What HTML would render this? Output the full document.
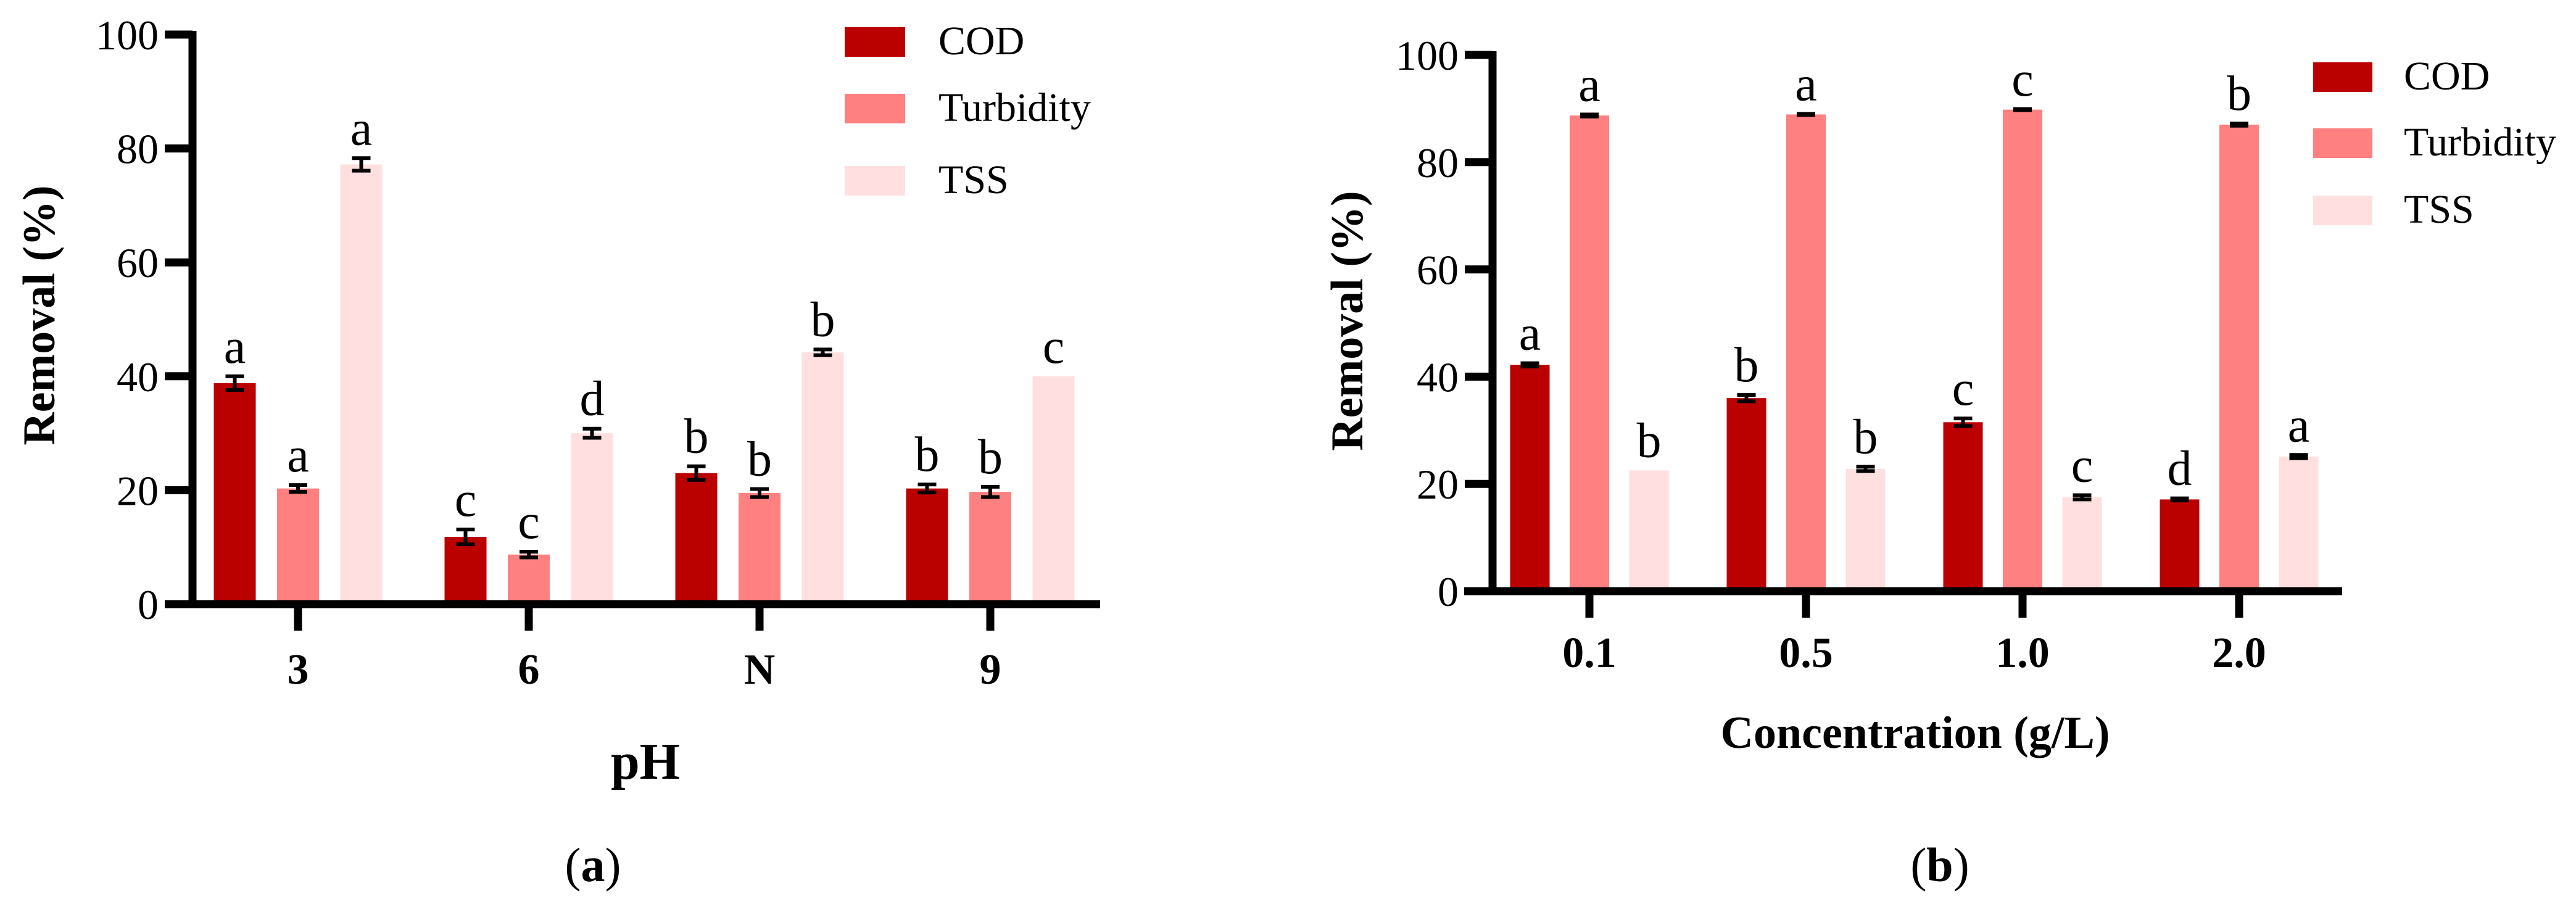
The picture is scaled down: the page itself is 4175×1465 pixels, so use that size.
<!DOCTYPE html>
<html><head><meta charset="utf-8">
<style>
html,body{margin:0;padding:0;background:#fff;}
svg{display:block;}
svg text{font-family:"Liberation Serif","DejaVu Serif",serif;}
</style></head>
<body>
<svg id="fig" width="4175" height="1465" viewBox="0 0 4175 1465" xmlns="http://www.w3.org/2000/svg" font-family="Liberation Serif, serif"></svg>
<script>
// ---- Chart A data (pH) ----
const catsA = ["3","6","N","9"];
const codA = [38.8, 11.8, 23.0, 20.3];
const codErrA = [1.2, 1.3, 1.2, 0.7];
const turbA = [20.3, 8.7, 19.5, 19.7];
const turbErrA = [0.6, 0.5, 0.7, 0.9];
const tssA = [77.2, 30.0, 44.2, 40.0];
const tssErrA = [1.1, 0.8, 0.5, 0.0];
const codLetA = ["a","c","b","b"];
const turbLetA = ["a","c","b","b"];
const tssLetA = ["a","d","b","c"];
// ---- Chart B data (concentration) ----
const catsB = ["0.1","0.5","1.0","2.0"];
const codB = [42.2, 36.0, 31.5, 17.1];
const codErrB = [0.3, 0.6, 0.7, 0.2];
const turbB = [88.7, 88.9, 89.8, 87.0];
const turbErrB = [0.2, 0.1, 0.1, 0.2];
const tssB = [22.5, 22.8, 17.5, 25.1];
const tssErrB = [0.0, 0.4, 0.4, 0.3];
const codLetB = ["a","b","c","d"];
const turbLetB = ["a","a","c","b"];
const tssLetB = ["b","b","c","a"];
const yTicks = [0,20,40,60,80,100];
const seriesNames = ["COD","Turbidity","TSS"];
const colors = ["#bb0000","#ff8080","#ffdfe0"];

const NS="http://www.w3.org/2000/svg";
const svg=document.getElementById('fig');
const FF='Liberation Serif, DejaVu Serif, serif';
function mk(tag,attrs,parent){const e=document.createElementNS(NS,tag);for(const k in attrs)e.setAttribute(k,attrs[k]);if(tag==='text')e.setAttribute('font-family',FF);(parent||svg).appendChild(e);return e;}

function drawChart(cfg){
  const g=mk('g',{});
  
  
  const y=v=>cfg.y0+(cfg.y100-cfg.y0)*v/100;
  const cx=i=>cfg.c0+i*cfg.cStep;
  const series=[cfg.cod,cfg.turb,cfg.tss];
  const errs=[cfg.codErr,cfg.turbErr,cfg.tssErr];
  const lets=[cfg.codLet,cfg.turbLet,cfg.tssLet];
  const sKeys=["cod","turbidity","tss"];
  for(let s=0;s<3;s++){
    for(let i=0;i<cfg.cats.length;i++){
      const v=series[s][i], e=errs[s][i];
      const bx=cx(i)+(s-1)*cfg.bStep-cfg.bw/2;
      const r=mk('rect',{x:bx,y:y(v),width:cfg.bw,height:cfg.y0-y(v),fill:colors[s]},g);
      
      
      const mx=bx+cfg.bw/2;
      if(e>0){
        const eg=mk('g',{stroke:'#000','stroke-width':6},g);
        
        
        mk('line',{x1:mx,x2:mx,y1:y(v+e),y2:y(v-e)},eg);
        mk('line',{x1:mx-15,x2:mx+15,y1:y(v+e),y2:y(v+e)},eg);
        mk('line',{x1:mx-15,x2:mx+15,y1:y(v-e),y2:y(v-e)},eg);
      }
      const t=mk('text',{x:mx,y:y(v+e)-22,'text-anchor':'middle','font-size':80,fill:'#000'},g);
      t.textContent=lets[s][i];
      
      
    }
  }
  const ax=mk('g',{stroke:'#000','stroke-width':13,fill:'none'},g);
  
  
  mk('line',{x1:cfg.axX,x2:cfg.axX,y1:y(100)-6,y2:cfg.y0},ax);
  mk('line',{x1:cfg.axStart,x2:cfg.axEnd,y1:cfg.y0,y2:cfg.y0},ax);
  for(const t of yTicks){
    mk('line',{x1:cfg.axX-45,x2:cfg.axX,y1:y(t),y2:y(t)},ax);
    const tl=mk('text',{x:cfg.axX-55,y:y(t)+24,'text-anchor':'end','font-size':68,fill:'#000'},g);
    tl.textContent=t;
    
    
  }
  for(let i=0;i<cfg.cats.length;i++){
    mk('line',{x1:cx(i),x2:cx(i),y1:cfg.y0,y2:cfg.y0+43},ax);
    const tl=mk('text',{x:cx(i),y:cfg.xLabY,'text-anchor':'middle','font-size':70,'font-weight':'bold',fill:'#000'},g);
    tl.textContent=cfg.cats[i];
    
    
  }
  const yt=mk('text',{x:0,y:0,transform:`translate(${cfg.ytX},${cfg.ytY}) rotate(-90)`,'text-anchor':'middle','font-size':74,'font-weight':'bold',fill:'#000'},g);
  yt.textContent='Removal (%)';
  
  
  const xt=mk('text',{x:cfg.xtX,y:cfg.xtY,'text-anchor':'middle','font-size':cfg.xtSize,'font-weight':'bold',fill:'#000'},g);
  xt.textContent=cfg.xTitle;
  
  
  const pl=mk('text',{x:cfg.plX,y:1428,'text-anchor':'middle','font-size':78,fill:'#000'},g);
  pl.innerHTML=cfg.panel;
  
  
  for(let s=0;s<3;s++){
    const lg=mk('g',{},g);
    
    
    const top=cfg.legY[s];
    mk('rect',{x:cfg.legX,y:top,width:cfg.legW,height:48,fill:colors[s]},lg);
    const lt=mk('text',{x:cfg.legTX,y:top+44,'font-size':66,fill:'#000'},lg);
    lt.textContent=seriesNames[s];
  }
}

drawChart({name:'chart-a',cats:catsA,cod:codA,codErr:codErrA,turb:turbA,turbErr:turbErrA,tss:tssA,tssErr:tssErrA,
  codLet:codLetA,turbLet:turbLetA,tssLet:tssLetA,
  y0:979,y100:56,c0:483,cStep:374,bw:68,bStep:102.5,axX:312,axStart:270,axEnd:1783,xLabY:1108,
  ytX:88,ytY:511,xtX:1046,xtY:1262,xtSize:84,xTitle:'pH',plX:961,panel:'(<tspan font-weight="bold">a</tspan>)',
  legX:1369,legW:98,legY:[44,152,269],legTX:1521});
drawChart({name:'chart-b',cats:catsB,cod:codB,codErr:codErrB,turb:turbB,turbErr:turbErrB,tss:tssB,tssErr:tssErrB,
  codLet:codLetB,turbLet:turbLetB,tssLet:tssLetB,
  y0:958,y100:89,c0:2576,cStep:351,bw:64,bStep:96.5,axX:2419,axStart:2373,axEnd:3796,xLabY:1081,
  ytX:2208,ytY:520,xtX:3104,xtY:1212,xtSize:74,xTitle:'Concentration (g/L)',plX:3144,panel:'(<tspan font-weight="bold">b</tspan>)',
  legX:3749,legW:96,legY:[101,208,317],legTX:3896});
</script>
</body></html>
